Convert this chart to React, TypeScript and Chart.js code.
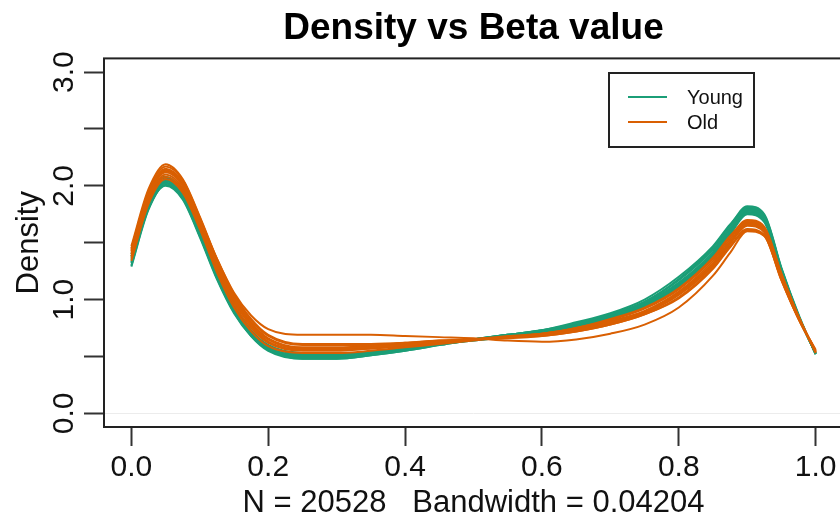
import React, { useEffect, useRef } from "react";
import { Chart, registerables } from "chart.js";

Chart.register(...registerables);

// Beta value grid on which every density curve was read
const betaX = [0, 0.025, 0.05, 0.075, 0.1, 0.125, 0.15, 0.175, 0.2, 0.25, 0.3, 0.35, 0.4, 0.45, 0.5, 0.55, 0.6, 0.65, 0.7, 0.75, 0.8, 0.85, 0.875, 0.9, 0.925, 0.95, 0.975, 1.0];

// Young samples
const young1 = [1.30, 1.80, 2.00, 1.88, 1.55, 1.18, 0.88, 0.68, 0.56, 0.48, 0.48, 0.51, 0.55, 0.60, 0.65, 0.69, 0.73, 0.79, 0.87, 0.98, 1.17, 1.44, 1.63, 1.79, 1.72, 1.26, 0.86, 0.52];
const young2 = [1.32, 1.82, 2.02, 1.90, 1.57, 1.20, 0.90, 0.69, 0.57, 0.49, 0.49, 0.52, 0.56, 0.61, 0.65, 0.69, 0.72, 0.78, 0.86, 0.97, 1.15, 1.42, 1.62, 1.81, 1.74, 1.27, 0.86, 0.52];
const young3 = [1.35, 1.85, 2.04, 1.92, 1.59, 1.22, 0.91, 0.70, 0.58, 0.50, 0.50, 0.53, 0.56, 0.61, 0.65, 0.68, 0.72, 0.77, 0.85, 0.96, 1.14, 1.40, 1.60, 1.78, 1.71, 1.25, 0.85, 0.53];
const young4 = [1.37, 1.86, 2.05, 1.93, 1.60, 1.23, 0.92, 0.71, 0.58, 0.51, 0.51, 0.53, 0.57, 0.61, 0.65, 0.68, 0.71, 0.77, 0.85, 0.95, 1.13, 1.40, 1.59, 1.76, 1.70, 1.24, 0.85, 0.53];
const young5 = [1.33, 1.83, 2.03, 1.91, 1.58, 1.21, 0.91, 0.70, 0.57, 0.50, 0.50, 0.52, 0.56, 0.61, 0.65, 0.69, 0.73, 0.78, 0.87, 0.98, 1.18, 1.46, 1.65, 1.82, 1.75, 1.28, 0.87, 0.52];
const young6 = [1.38, 1.88, 2.07, 1.95, 1.62, 1.25, 0.94, 0.72, 0.60, 0.52, 0.52, 0.54, 0.57, 0.61, 0.64, 0.67, 0.70, 0.76, 0.84, 0.94, 1.11, 1.38, 1.57, 1.75, 1.68, 1.23, 0.84, 0.53];
const young7 = [1.29, 1.79, 2.01, 1.89, 1.56, 1.19, 0.89, 0.68, 0.55, 0.48, 0.48, 0.51, 0.55, 0.60, 0.65, 0.69, 0.73, 0.80, 0.88, 1.00, 1.20, 1.47, 1.66, 1.80, 1.73, 1.27, 0.86, 0.52];
const young8 = [1.40, 1.90, 2.08, 1.96, 1.63, 1.26, 0.95, 0.73, 0.60, 0.53, 0.52, 0.54, 0.57, 0.61, 0.64, 0.67, 0.70, 0.76, 0.84, 0.95, 1.12, 1.39, 1.58, 1.77, 1.70, 1.24, 0.85, 0.53];

// Old samples
const old1 = [1.40, 1.90, 2.12, 2.00, 1.68, 1.31, 1.00, 0.78, 0.65, 0.57, 0.57, 0.58, 0.60, 0.63, 0.65, 0.67, 0.69, 0.73, 0.80, 0.89, 1.05, 1.31, 1.50, 1.66, 1.60, 1.20, 0.84, 0.54];
const old2 = [1.43, 1.93, 2.15, 2.03, 1.70, 1.33, 1.02, 0.80, 0.66, 0.58, 0.58, 0.59, 0.61, 0.63, 0.65, 0.67, 0.69, 0.73, 0.79, 0.88, 1.04, 1.30, 1.49, 1.65, 1.59, 1.19, 0.84, 0.55];
const old3 = [1.45, 1.95, 2.17, 2.05, 1.72, 1.35, 1.04, 0.82, 0.68, 0.60, 0.60, 0.60, 0.62, 0.64, 0.65, 0.67, 0.68, 0.72, 0.78, 0.87, 1.02, 1.28, 1.47, 1.62, 1.57, 1.18, 0.83, 0.55];
const old4 = [1.38, 1.88, 2.10, 1.98, 1.66, 1.29, 0.98, 0.77, 0.63, 0.56, 0.56, 0.57, 0.60, 0.62, 0.65, 0.67, 0.70, 0.74, 0.81, 0.90, 1.07, 1.34, 1.53, 1.69, 1.63, 1.22, 0.85, 0.54];
const old5 = [1.47, 1.97, 2.19, 2.06, 1.73, 1.36, 1.05, 0.83, 0.69, 0.61, 0.61, 0.61, 0.62, 0.64, 0.65, 0.66, 0.68, 0.72, 0.78, 0.87, 1.01, 1.27, 1.46, 1.61, 1.56, 1.17, 0.83, 0.56];
const old6 = [1.36, 1.86, 2.08, 1.96, 1.64, 1.27, 0.96, 0.75, 0.62, 0.55, 0.55, 0.57, 0.59, 0.62, 0.65, 0.68, 0.70, 0.75, 0.82, 0.92, 1.09, 1.36, 1.55, 1.70, 1.64, 1.23, 0.85, 0.53];
const old7 = [1.42, 1.92, 2.14, 2.02, 1.69, 1.32, 1.01, 0.79, 0.65, 0.57, 0.57, 0.58, 0.60, 0.63, 0.65, 0.67, 0.69, 0.74, 0.80, 0.89, 1.06, 1.32, 1.51, 1.67, 1.61, 1.21, 0.84, 0.54];
const old8 = [1.44, 1.93, 2.13, 2.02, 1.71, 1.36, 1.06, 0.86, 0.74, 0.69, 0.69, 0.69, 0.68, 0.67, 0.66, 0.64, 0.63, 0.65, 0.70, 0.78, 0.93, 1.21, 1.41, 1.60, 1.56, 1.17, 0.83, 0.55];
const old9 = [1.34, 1.84, 2.06, 1.94, 1.62, 1.24, 0.93, 0.72, 0.59, 0.53, 0.53, 0.55, 0.58, 0.61, 0.64, 0.67, 0.70, 0.75, 0.83, 0.93, 1.10, 1.37, 1.56, 1.68, 1.62, 1.22, 0.85, 0.54];

const youngSeries = [young1, young2, young3, young4, young5, young6, young7, young8];
const oldSeries = [old1, old2, old3, old4, old5, old6, old7, old8, old9];

const xTickValues = [0, 0.2, 0.4, 0.6, 0.8, 1.0];
const yTickValues = [0, 0.5, 1, 1.5, 2, 2.5, 3];
const titleText = "Density vs Beta value";
const xAxisLabel = "N = 20528   Bandwidth = 0.04204";
const yAxisLabel = "Density";
const legendLabels = ["Young", "Old"];
const seriesColors = ["#1B9E77", "#D95F02"];

const FONT = '"Liberation Sans", Arial, Helvetica, sans-serif';

export default function App() {
  const ref = useRef<HTMLCanvasElement>(null);

  useEffect(() => {
    document.body.style.margin = "0";
    document.body.style.overflow = "hidden";
    const canvas = ref.current;
    if (!canvas) return;

    const toPts = (ys: number[]) => ys.map((y, i) => ({ x: betaX[i], y }));
    const common = {
      pointRadius: 0,
      borderWidth: 2,
      fill: false,
      cubicInterpolationMode: "monotone" as const,
    };
    const datasets = [
      ...oldSeries.map((s, i) => ({
        label: `${legendLabels[1]} ${i + 1}`,
        data: toPts(s),
        borderColor: seriesColors[1],
        order: 0,
        ...common,
      })),
      ...youngSeries.map((s, i) => ({
        label: `${legendLabels[0]} ${i + 1}`,
        data: toPts(s),
        borderColor: seriesColors[0],
        order: 1,
        ...common,
      })),
    ];

    const boxPlugin = {
      id: "rbox",
      afterDatasetsDraw(chart: any) {
        const { ctx, chartArea: a } = chart;
        ctx.save();
        ctx.strokeStyle = "#222";
        ctx.lineWidth = 2;
        ctx.strokeRect(a.left, a.top, a.right - a.left, a.bottom - a.top);
        // legend
        const lx = 609, ly = 73, lw = 145, lh = 74;
        ctx.fillStyle = "#fff";
        ctx.fillRect(lx, ly, lw, lh);
        ctx.strokeRect(lx, ly, lw, lh);
        const rows = [97, 122];
        legendLabels.forEach((lab, i) => {
          ctx.strokeStyle = seriesColors[i];
          ctx.lineWidth = 2;
          ctx.beginPath();
          ctx.moveTo(628, rows[i]);
          ctx.lineTo(667, rows[i]);
          ctx.stroke();
          ctx.fillStyle = "#111";
          ctx.font = `20px ${FONT}`;
          ctx.textBaseline = "middle";
          ctx.textAlign = "left";
          ctx.fillText(lab, 687, rows[i] + 1);
        });
        ctx.restore();
      },
    };

    const chart = new Chart(canvas, {
      type: "line",
      data: { datasets },
      options: {
        animation: false,
        responsive: false,
        devicePixelRatio: 1,
        layout: { padding: { left: 0, right: 9, top: 0, bottom: 0 } },
        plugins: {
          legend: { display: false },
          tooltip: { enabled: false },
          title: {
            display: true,
            text: titleText,
            fullSize: false,
            color: "#000",
            font: { family: FONT, size: 37, weight: "bold", lineHeight: 1.2 },
            padding: { top: 7, bottom: 7 },
          },
        },
        scales: {
          x: {
            type: "linear",
            min: -0.04,
            max: 1.04,
            afterBuildTicks: (s: any) => {
              s.ticks = xTickValues.map((v) => ({ value: v }));
            },
            afterFit: (s: any) => {
              s.height = 95;
            },
            border: { display: false },
            grid: {
              drawOnChartArea: false,
              drawTicks: true,
              tickLength: 19,
              tickWidth: 2,
              tickColor: "#333",
            },
            ticks: {
              autoSkip: false,
              maxRotation: 0,
              minRotation: 0,
              padding: 4,
              color: "#111",
              font: { family: FONT, size: 30 },
              callback: (v: any) => Number(v).toFixed(1),
            },
            title: {
              display: true,
              text: xAxisLabel,
              color: "#111",
              font: { family: FONT, size: 31, lineHeight: 1.2 },
              padding: { top: 0, bottom: 0 },
            },
          },
          y: {
            type: "linear",
            min: -0.12,
            max: 3.12,
            afterBuildTicks: (s: any) => {
              s.ticks = yTickValues.map((v) => ({ value: v }));
            },
            afterFit: (s: any) => {
              s.width = 104;
            },
            border: { display: false },
            grid: {
              drawOnChartArea: true,
              drawTicks: true,
              tickLength: 20,
              tickWidth: 2,
              tickColor: "#333",
              lineWidth: 1,
              color: (c: any) =>
                c.tick && c.tick.value === 0 ? "#ececec" : "rgba(0,0,0,0)",
            },
            ticks: {
              autoSkip: false,
              minRotation: 90,
              maxRotation: 90,
              crossAlign: "center",
              padding: -2,
              color: "#111",
              font: { family: FONT, size: 30 },
              callback: (v: any) =>
                Number.isInteger(Number(v)) ? Number(v).toFixed(1) : "",
            },
            title: {
              display: true,
              text: yAxisLabel,
              color: "#111",
              font: { family: FONT, size: 31, lineHeight: 1.2 },
              padding: { top: 11, bottom: 0 },
            },
          },
        },
      },
      plugins: [boxPlugin],
    } as any);

    return () => chart.destroy();
  }, []);

  return (
    <div
      style={{
        position: "absolute",
        left: 0,
        top: 0,
        width: 840,
        height: 522,
        overflow: "hidden",
        background: "#fff",
      }}
    >
      <canvas ref={ref} width={852} height={522} style={{ display: "block" }} />
    </div>
  );
}
